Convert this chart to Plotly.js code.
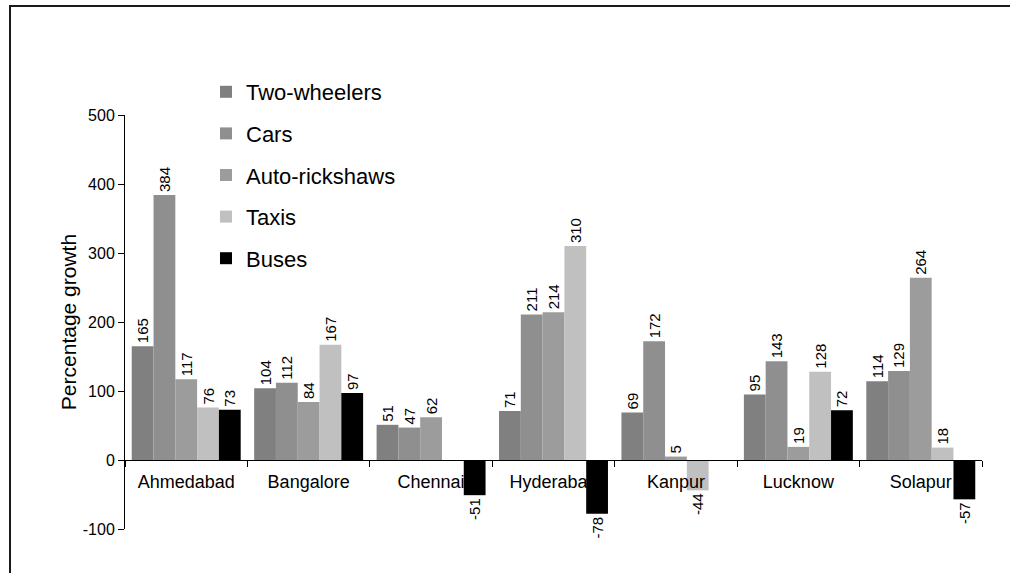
<!DOCTYPE html>
<html>
<head>
<meta charset="utf-8">
<script src="https://cdn.plot.ly/plotly-3.0.1.min.js"></script>
<style>
html,body{margin:0;padding:0;background:#fff;}
#chart{width:1010px;height:573px;}
</style>
</head>
<body>
<div id="chart"></div>
<script>
const cities = ["Ahmedabad", "Bangalore", "Chennai", "Hyderabad", "Kanpur", "Lucknow", "Solapur"];
const twoWheelers = [165, 104, 51, 71, 69, 95, 114];
const cars = [384, 112, 47, 211, 172, 143, 129];
const autoRickshaws = [117, 84, 62, 214, 5, 19, 264];
const taxis = [76, 167, null, 310, -44, 128, 18];
const buses = [73, 97, -51, -78, null, 72, -57];
const seriesNames = ["Two-wheelers", "Cars", "Auto-rickshaws", "Taxis", "Buses"];
const seriesColors = ["#808080", "#8f8f8f", "#9c9c9c", "#c0c0c0", "#000000"];
const yTicks = [-100, 0, 100, 200, 300, 400, 500];
const yTickText = ["-100", "0", "100", "200", "300", "400", "500"];

const seriesValues = [twoWheelers, cars, autoRickshaws, taxis, buses];
const FONT = "Liberation Sans, Arial, sans-serif";

const traces = seriesValues.map((vals, i) => ({
  type: "bar",
  name: seriesNames[i],
  x: cities,
  y: vals,
  marker: {color: seriesColors[i], line: {width: 0}},
  text: vals.map(v => v === null ? "" : String(v)),
  textposition: "outside",
  textangle: -90,
  constraintext: "none",
  cliponaxis: false,
  textfont: {family: FONT, size: 15, color: "#000"},
  legendgroup: "g" + i,
  hoverinfo: "x+y+name"
}));

const W = 1010, H = 573, L = 125, R = 28, T = 115, B = 44;
const pw = W - L - R, ph = H - T - B;
const px = x => (x - L) / pw;
const py = y => 1 - (y - T) / ph;

const layout = {
  width: W, height: H,
  margin: {l: L, r: R, t: T, b: B, pad: 0},
  paper_bgcolor: "#fff",
  plot_bgcolor: "rgba(0,0,0,0)",
  font: {family: FONT, color: "#000"},
  barmode: "group",
  bargap: 0.11,
  bargroupgap: 0,
  showlegend: true,
  legend: {
    x: px(206), y: py(71), xanchor: "left", yanchor: "top",
    font: {family: FONT, size: 22, color: "#000"},
    tracegroupgap: 10,
    traceorder: "grouped",
    bgcolor: "rgba(0,0,0,0)"
  },
  xaxis: {
    type: "category",
    anchor: "free",
    position: 100 / 600,
    showline: true, linecolor: "#000", linewidth: 1,
    ticks: "outside", tickson: "boundaries", ticklen: 6, tickcolor: "#000",
    tickfont: {family: FONT, size: 18, color: "#000"},
    ticklabelstandoff: 5,
    showgrid: false, zeroline: false,
    layer: "above traces",
    fixedrange: true
  },
  yaxis: {
    range: [-100, 500],
    tickvals: yTicks,
    ticktext: yTickText,
    showline: true, linecolor: "#000", linewidth: 1,
    ticks: "outside", ticklen: 6, tickcolor: "#000",
    tickfont: {family: FONT, size: 16, color: "#000"},
    showgrid: false, zeroline: false,
    title: {text: "Percentage growth", font: {family: FONT, size: 21, color: "#000"}, standoff: 0},
    fixedrange: true
  },
  shapes: [
    {type: "line", xref: "paper", yref: "paper", x0: px(9), x1: px(1012), y0: py(6), y1: py(6), line: {color: "#1a1a1a", width: 2}},
    {type: "line", xref: "paper", yref: "paper", x0: px(10), x1: px(10), y0: py(5), y1: py(575), line: {color: "#1a1a1a", width: 2}}
  ]
};

Plotly.newPlot("chart", traces, layout, {displayModeBar: false, staticPlot: true});
</script>
</body>
</html>
